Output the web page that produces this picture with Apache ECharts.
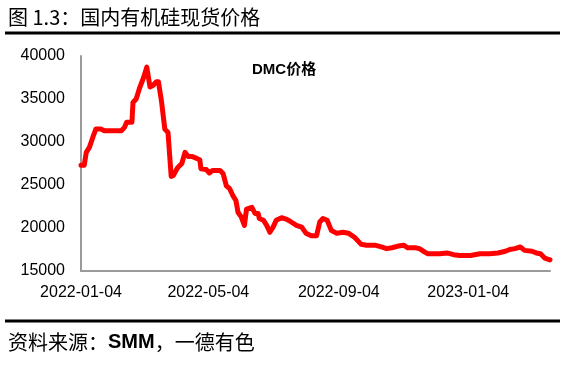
<!DOCTYPE html>
<html>
<head>
<meta charset="utf-8">
<script src="https://cdn.jsdelivr.net/npm/echarts@6/dist/echarts.min.js"></script>
<style>
html,body{margin:0;padding:0;background:#fff;}
#c{width:567px;height:365px;}
</style>
</head>
<body>
<div id="c"></div>
<script>
const titleText = '图 1.3：国内有机硅现货价格';
const sourceText = '资料来源：{b|SMM}，一德有色';
const seriesName = 'DMC价格';
const xTickLabels = ['2022-01-04', '2022-05-04', '2022-09-04', '2023-01-04'];
const yTicks = [15000, 20000, 25000, 30000, 35000, 40000];
const dates = [
'2022-01-04','2022-01-07','2022-01-09','2022-01-12','2022-01-15','2022-01-18','2022-01-23','2022-01-26',
'2022-02-11','2022-02-14','2022-02-16','2022-02-21','2022-02-22','2022-02-25','2022-02-28',
'2022-03-04','2022-03-07','2022-03-08','2022-03-10','2022-03-13','2022-03-16','2022-03-18','2022-03-21',
'2022-03-24','2022-03-27','2022-03-28','2022-03-30','2022-04-01','2022-04-05','2022-04-09','2022-04-12',
'2022-04-15','2022-04-19','2022-04-23','2022-04-26','2022-04-27','2022-05-02','2022-05-05','2022-05-08',
'2022-05-15','2022-05-18','2022-05-21','2022-05-24','2022-05-27','2022-05-30','2022-06-01','2022-06-04',
'2022-06-07','2022-06-09','2022-06-14','2022-06-17','2022-06-20','2022-06-21','2022-06-25','2022-06-28',
'2022-07-01','2022-07-04','2022-07-07','2022-07-12','2022-07-17','2022-07-21','2022-07-26','2022-07-31',
'2022-08-04','2022-08-09','2022-08-14','2022-08-17','2022-08-20','2022-08-24','2022-08-28','2022-09-02',
'2022-09-08','2022-09-13','2022-09-19','2022-09-22','2022-09-25','2022-09-30','2022-10-08','2022-10-14',
'2022-10-19','2022-10-24','2022-10-30','2022-11-04','2022-11-08','2022-11-15','2022-11-19','2022-11-24',
'2022-11-27','2022-12-04','2022-12-08','2022-12-15','2022-12-21','2022-12-27','2023-01-06','2023-01-15',
'2023-01-24','2023-02-01','2023-02-08','2023-02-12','2023-02-17','2023-02-22','2023-02-26','2023-03-05',
'2023-03-09','2023-03-13','2023-03-17','2023-03-22'
];
const prices = [
27300,27300,28800,29400,30500,31500,31500,31300,
31300,31700,32300,32300,34600,35000,36200,
37500,38700,38500,36400,36600,37000,37000,34600,
31500,31100,29400,26000,26100,27000,27500,28800,
28300,28300,28100,27900,26900,26800,26400,26700,
26700,26300,24900,24600,23800,23200,21800,21300,
20300,22200,22400,21700,21700,21100,20900,20300,
19500,20100,20900,21200,21000,20700,20300,20100,
19400,19100,19100,20700,21100,20900,19700,19400,
19500,19400,18900,18500,18100,18000,18000,17800,
17600,17700,17900,18000,17700,17700,17600,17200,
17000,17000,17000,17100,16900,16800,16800,17000,
17000,17100,17300,17500,17600,17800,17400,17300,
17100,17000,16500,16300
];

function ts(s){ const p = s.split('-').map(Number); return Date.UTC(p[0], p[1]-1, p[2]); }
function fmt(v){
  const d = new Date(v);
  const m = String(d.getUTCMonth()+1).padStart(2,'0');
  const dd = String(d.getUTCDate()).padStart(2,'0');
  return d.getUTCFullYear() + '-' + m + '-' + dd;
}
const seriesData = dates.map((d,i)=>[ts(d), prices[i]]);

const chart = echarts.init(document.getElementById('c'), null, {renderer:'canvas'});
const latin = "'Liberation Sans', Arial, 'Noto Sans CJK SC', sans-serif";
chart.setOption({
  animation: false,
  backgroundColor: '#ffffff',
  grid: {left: 81, right: 17, top: 56, bottom: 94, containLabel: false},
  legend: {
    data: [{name: seriesName, icon: 'none'}],
    left: 242, top: 57, itemWidth: 0, itemHeight: 0, itemGap: 0,
    textStyle: {color: '#000', fontSize: 15, fontFamily: latin, fontWeight: 'bold'}
  },
  xAxis: {
    type: 'value',
    min: ts(dates[0]),
    max: ts(dates[dates.length-1]),
    splitLine: {show: false},
    axisLine: {show: true, lineStyle: {color: '#9a9a9a', width: 2}},
    axisTick: {show: false},
    axisLabel: {
      customValues: xTickLabels.map(ts),
      formatter: v => fmt(v),
      color: '#000', fontSize: 16, fontFamily: latin, margin: 14,
      showMinLabel: true, showMaxLabel: true, hideOverlap: false
    }
  },
  yAxis: {
    type: 'value',
    min: yTicks[0], max: yTicks[yTicks.length-1], interval: 5000,
    splitLine: {show: false},
    axisLine: {show: true, lineStyle: {color: '#9a9a9a', width: 2}},
    axisTick: {show: false},
    axisLabel: {color: '#000', fontSize: 16, fontFamily: latin, margin: 16, formatter: v => String(v)}
  },
  series: [{
    name: seriesName,
    type: 'line',
    data: seriesData,
    showSymbol: false,
    symbol: 'none',
    lineStyle: {color: '#ff0000', width: 5, join: 'round', cap: 'round'},
    itemStyle: {color: '#ff0000'}
  }],
  graphic: [
    {type: 'text', left: 8, top: 7, style: {text: titleText, fill: '#000', font: "20px 'Noto Sans CJK SC', sans-serif"}},
    {type: 'line', shape: {x1: 5, y1: 33, x2: 560, y2: 33}, style: {stroke: '#000', lineWidth: 3}},
    {type: 'line', shape: {x1: 5, y1: 321, x2: 560, y2: 321}, style: {stroke: '#000', lineWidth: 3}},
    {type: 'text', left: 8, top: 332, style: {
      text: sourceText, fill: '#000', font: "20px 'Noto Sans CJK SC', sans-serif",
      rich: {b: {fontSize: 20, fontWeight: 'bold', fontFamily: "'Liberation Sans', Arial, sans-serif", fill: '#000'}}
    }}
  ]
});
</script>
</body>
</html>
